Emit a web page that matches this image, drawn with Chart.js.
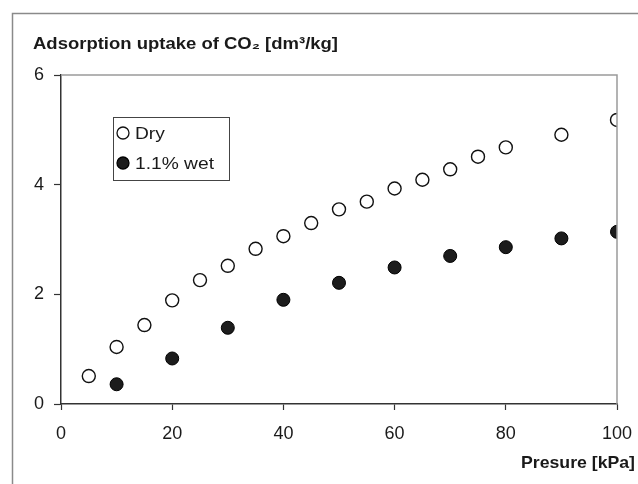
<!DOCTYPE html>
<html>
<head>
<meta charset="utf-8">
<script src="https://cdn.jsdelivr.net/npm/chart.js@4"></script>
<style>
html,body{margin:0;padding:0;background:#fff;}
#wrap{width:638px;height:484px;position:relative;}
</style>
</head>
<body>
<div id="wrap"><canvas id="c" width="638" height="484"></canvas></div>
<script>
const dryPressure = [5,10,15,20,25,30,35,40,45,50,55,60,65,70,75,80,90,100];
const dryUptake   = [0.51,1.04,1.44,1.89,2.26,2.52,2.83,3.06,3.30,3.55,3.69,3.93,4.09,4.28,4.51,4.68,4.91,5.18];
const wetPressure = [10,20,30,40,50,60,70,80,90,100];
const wetUptake   = [0.36,0.83,1.39,1.90,2.21,2.49,2.70,2.86,3.02,3.14];
const seriesLabels = ["Dry","1.1% wet"];
const xTicks = [0,20,40,60,80,100];
const yTicks = [0,2,4,6];
const chartTitle = "Adsorption uptake of CO\u2082 [dm\u00B3/kg]";
const xTitle = "Presure [kPa]";

const FONT = "'Liberation Sans', Arial, sans-serif";

function pts(xs, ys){ return xs.map((x,i)=>({x:x, y:ys[i]})); }

function fitText(ctx, text, x, y, targetW, align){
  const w = ctx.measureText(text).width;
  const s = targetW / w;
  ctx.save();
  ctx.textAlign = 'left';
  const left = align === 'right' ? x - targetW : x;
  ctx.translate(left, y);
  ctx.scale(s, 1);
  ctx.fillText(text, 0, 0);
  ctx.restore();
}

const decor = {
  id:'decor',
  beforeDraw(chart){
    const ctx = chart.ctx;
    ctx.save();
    ctx.fillStyle = '#fff';
    ctx.fillRect(0,0,chart.width,chart.height);
    ctx.strokeStyle = '#8a8a8a';
    ctx.lineWidth = 1.5;
    ctx.beginPath();
    ctx.moveTo(12.5, chart.height);
    ctx.lineTo(12.5, 13.5);
    ctx.lineTo(chart.width, 13.5);
    ctx.stroke();
    ctx.restore();
  },
  afterDatasetsDraw(chart){
    const ctx = chart.ctx;
    const a = chart.chartArea;
    ctx.save();
    ctx.strokeStyle = '#9a9a9a';
    ctx.lineWidth = 1.5;
    ctx.beginPath();
    ctx.moveTo(a.left, a.top);
    ctx.lineTo(a.right, a.top);
    ctx.lineTo(a.right, a.bottom);
    ctx.stroke();
    ctx.fillStyle = '#1a1a1a';
    ctx.textBaseline = 'alphabetic';
    ctx.font = "bold 17px " + FONT;
    fitText(ctx, chartTitle, 33, 49, 305, 'left');
    ctx.font = "bold 17px " + FONT;
    fitText(ctx, xTitle, 635, 468, 114, 'right');
    // legend
    const lx = 113, ly = 117, lw = 116, lh = 63;
    ctx.fillStyle = '#fff';
    ctx.fillRect(lx, ly, lw, lh);
    ctx.strokeStyle = '#444';
    ctx.lineWidth = 1;
    ctx.strokeRect(lx+0.5, ly+0.5, lw, lh);
    chart.data.datasets.forEach((ds,i)=>{
      const cy = 133 + i*30;
      ctx.beginPath();
      ctx.arc(123, cy, 6, 0, Math.PI*2);
      ctx.fillStyle = ds.pointBackgroundColor;
      ctx.fill();
      ctx.lineWidth = 1.3;
      ctx.strokeStyle = ds.pointBorderColor;
      ctx.stroke();
      ctx.fillStyle = '#1a1a1a';
      ctx.font = "17px " + FONT;
      ctx.textBaseline = 'middle';
      const w = ctx.measureText(ds.label).width * 1.13;
      fitText(ctx, ds.label, 135, cy+1, w, 'left');
    });
    ctx.restore();
  }
};

new Chart(document.getElementById('c'), {
  type:'scatter',
  data:{
    datasets:[
      {label:seriesLabels[0], data:pts(dryPressure, dryUptake),
       pointRadius:6.5, pointBackgroundColor:'#ffffff', pointBorderColor:'#111111', pointBorderWidth:1.4, showLine:false},
      {label:seriesLabels[1], data:pts(wetPressure, wetUptake),
       pointRadius:6.5, pointBackgroundColor:'#1c1c1c', pointBorderColor:'#000000', pointBorderWidth:1, showLine:false}
    ]
  },
  options:{
    responsive:false,
    animation:false,
    devicePixelRatio:1,
    layout:{padding:{left:0,right:21,top:75,bottom:0}},
    plugins:{legend:{display:false}, tooltip:{enabled:false}, title:{display:false}},
    scales:{
      x:{
        type:'linear', min:0, max:100,
        afterBuildTicks(s){ s.ticks = xTicks.map(v=>({value:v})); },
        afterFit(s){ s.height = 80; s.paddingLeft = 0; s.paddingRight = 0; },
        grid:{drawOnChartArea:false, drawTicks:true, tickLength:6, tickColor:'#333', tickWidth:1.2},
        border:{display:true, color:'#333', width:1.5},
        ticks:{color:'#1a1a1a', font:{family:FONT, size:18}, padding:13, maxRotation:0}
      },
      y:{
        type:'linear', min:0, max:6,
        afterBuildTicks(s){ s.ticks = yTicks.map(v=>({value:v})); },
        afterFit(s){ s.width = 61; s.paddingTop = 0; s.paddingBottom = 0; },
        grid:{drawOnChartArea:false, drawTicks:true, tickLength:7, tickColor:'#333', tickWidth:1.2},
        border:{display:true, color:'#333', width:1.5},
        ticks:{color:'#1a1a1a', font:{family:FONT, size:18}, padding:10}
      }
    }
  },
  plugins:[decor]
});
</script>
</body>
</html>
